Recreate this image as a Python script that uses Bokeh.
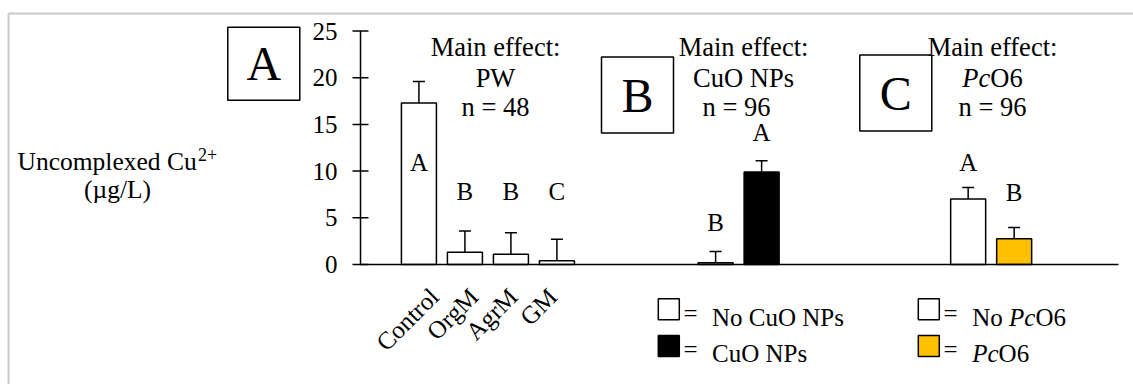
import math

from bokeh.core.properties import value
from bokeh.embed import file_html
from bokeh.models import ColumnDataSource, Range1d, TeeHead, Whisker
from bokeh.plotting import figure
from bokeh.resources import INLINE

# ---------------- data ----------------
y_ticks = [0, 5, 10, 15, 20, 25]

pw_labels = ["Control", "OrgM", "AgrM", "GM"]
pw_mean = [17.3, 1.3, 1.1, 0.4]
pw_err = [2.3, 2.3, 2.3, 2.3]
pw_sig = ["A", "B", "B", "C"]

cuo_labels = ["No CuO NPs", "CuO NPs"]
cuo_mean = [0.2, 9.9]
cuo_err = [1.2, 1.2]
cuo_sig = ["B", "A"]

pc_labels = ["No PcO6", "PcO6"]
pc_mean = [7.0, 2.75]
pc_err = [1.25, 1.2]
pc_sig = ["A", "B"]

panel_letters = ["A", "B", "C"]
effect_names = ["PW", "CuO NPs", "PcO6"]
effect_n = [48, 96, 96]

# ---------------- layout ----------------
W, H = 1133, 384
AXIS_PX = 360              # canvas x of the value axis
SLOT = 46.0                # px per bar slot
Y0_PX, Y25_PX = 264.0, 30.5
PPU = (Y0_PX - Y25_PX) / 25.0
Y_TOP = 25 + Y25_PX / PPU
Y_BOT = Y_TOP - H / PPU


def sx(px):
    """canvas x pixel -> data x"""
    return (px - AXIS_PX) / SLOT


def sy(py):
    """canvas y pixel -> data y"""
    return Y_TOP - py / PPU


FONT = value("Liberation Serif")
FS = "25px"
HFS = "26.5px"
WHITE, BLACK, GOLD, FRAME_GRAY = "#FFFFFF", "#000000", "#FFC000", "#C8C8C8"

group_start = [1.27, 7.72, 13.21]
group_means = [pw_mean, cuo_mean, pc_mean]
group_errs = [pw_err, cuo_err, pc_err]
group_sigs = [pw_sig, cuo_sig, pc_sig]
group_fill = [[WHITE] * 4, [WHITE, BLACK], [WHITE, GOLD]]
sig_y = [[10.95, 7.85, 7.85, 7.85], [4.53, 14.16], [10.95, 7.74]]

xs, tops, fills, sig_x, sig_t, sig_yy = [], [], [], [], [], []
full = dict(x=[], lo=[], hi=[])
upper_only = dict(x=[], lo=[], hi=[])
for g, start in enumerate(group_start):
    for i, (m, e) in enumerate(zip(group_means[g], group_errs[g])):
        x = start + i
        xs.append(x)
        tops.append(m)
        fills.append(group_fill[g][i])
        sig_x.append(x)
        sig_t.append(group_sigs[g][i])
        sig_yy.append(sig_y[g][i])
        target = full if m - e >= 0 else upper_only
        target["x"].append(x)
        target["lo"].append(max(0.0, m - e))
        target["hi"].append(m + e)

p = figure(
    width=W, height=H,
    x_range=Range1d(sx(0), sx(W)),
    y_range=Range1d(Y_BOT, Y_TOP),
    x_axis_location=None, y_axis_location=None,
    toolbar_location=None, output_backend="svg",
    min_border=0,
)
p.outline_line_color = None
p.grid.visible = False
p.background_fill_color = WHITE
p.border_fill_color = WHITE

# outer chart border
p.segment(x0=[sx(8), sx(8)], y0=[sy(13), sy(13)], x1=[sx(W + 5), sx(8)], y1=[sy(13), sy(H + 5)],
          line_color=FRAME_GRAY, line_width=2)

# value axis: line, crossing ticks and labels at the tick values
p.segment(x0=[0], y0=[min(y_ticks)], x1=[0], y1=[max(y_ticks)], line_color=BLACK, line_width=1.5)
p.scatter(x=[0] * len(y_ticks), y=y_ticks, marker="dash", size=16,
          line_color=BLACK, line_width=1.5)
p.text(x=[0] * len(y_ticks), y=y_ticks, text=[str(t) for t in y_ticks],
       x_offset=-23, text_font=FONT, text_font_size=FS, text_align="right",
       text_baseline="middle", text_color=BLACK)

# value axis title
tkw = dict(text_font=FONT, text_color=BLACK, text_baseline="alphabetic")
p.text(x=[sx(17)], y=[sy(161)], text=["Uncomplexed Cu"], text_font_size="25.5px",
       text_align="left", **tkw)
p.text(x=[sx(197.5)], y=[sy(154)], text=["2+"], text_font_size="18px",
       text_align="left", **tkw)
p.text(x=[sx(117)], y=[sy(189)], text=["(\u00b5g/L)"], text_font_size="25.5px",
       text_align="center", **tkw)

# bars
p.vbar(x=xs, top=tops, bottom=0, width=35 / SLOT, fill_color=fills,
       line_color=BLACK, line_width=1.5)

# error bars
for src, low_head in ((full, True), (upper_only, False)):
    w = Whisker(
        source=ColumnDataSource(src), base="x", lower="lo", upper="hi",
        dimension="height", line_color=BLACK, line_width=1.5,
        upper_head=TeeHead(size=12, line_color=BLACK, line_width=1.5),
        lower_head=TeeHead(size=12, line_color=BLACK, line_width=1.5) if low_head else None,
    )
    p.add_layout(w)

# category baseline
p.segment(x0=[0], y0=[0], x1=[sx(1118)], y1=[0], line_color=BLACK, line_width=1.5)

# significance letters
p.text(x=sig_x, y=sig_yy, text=sig_t, text_font=FONT, text_font_size=FS,
       text_align="center", text_baseline="middle", text_color=BLACK)

# rotated category names under the PW bars
p.text(x=[sx(434 + 39.4 * i) for i in range(len(pw_labels))],
       y=[sy(292)] * len(pw_labels), text=pw_labels, angle=math.pi / 4,
       text_font=FONT, text_font_size=FS, text_align="right",
       text_baseline="middle", text_color=BLACK)

# main-effect headers
header_x = [sx(495), sx(743), sx(992)]
base_py = [46, 77, 106.7]
for g, hx in enumerate(header_x):
    kw = dict(text_font=FONT, text_font_size=HFS, text_baseline="alphabetic", text_color=BLACK)
    p.text(x=[hx], y=[sy(base_py[0])], text=["Main effect:"], text_align="center", **kw)
    p.text(x=[hx], y=[sy(base_py[2])], text=[f"n = {effect_n[g]}"], text_align="center",
           x_offset=-7 if g == 1 else 0, **kw)
    name = effect_names[g]
    if name == "PcO6":
        p.text(x=[hx], y=[sy(base_py[1])], text=["Pc"], text_align="right",
               x_offset=-2.2, text_font_style="italic", **kw)
        p.text(x=[hx], y=[sy(base_py[1])], text=["O6"], text_align="left",
               x_offset=-2.2, **kw)
    else:
        p.text(x=[hx], y=[sy(base_py[1])], text=[name], text_align="center", **kw)

# panel boxes
box_cx = [sx(263.3), sx(637.0), sx(895.3)]
box_cy = [sy(63.3), sy(94.5), sy(92.5)]
p.rect(x=box_cx, y=box_cy, width=72, height=[73, 76, 76],
       width_units="screen", height_units="screen",
       fill_color=None, line_color=BLACK, line_width=1.5)
p.text(x=box_cx, y=box_cy, text=panel_letters, text_font=FONT, text_font_size="48px",
       text_align="center", text_baseline="middle", text_color=BLACK)

# keys
key_rows = [sy(308.8), sy(345.5)]
key_base = [sy(316.7), sy(353.3)]
eq_base = [sy(313.2), sy(349.3)]
p.rect(x=[sx(668.3)] * 2 + [sx(928.3)] * 2, y=key_rows * 2, width=21, height=21,
       width_units="screen", height_units="screen",
       fill_color=[WHITE, BLACK, WHITE, GOLD], line_color=BLACK, line_width=1.5)
lkw = dict(text_font=FONT, text_font_size=FS, text_baseline="alphabetic",
           text_align="left", text_color=BLACK)
p.text(x=[sx(683)] * 2 + [sx(943)] * 2, y=eq_base * 2, text=["="] * 4, **lkw)
p.text(x=[sx(711.5)] * 2, y=key_base, text=cuo_labels, **lkw)
# "No PcO6" / "PcO6" with italic Pc
p.text(x=[sx(971.7)], y=[key_base[0]], text=["No"], **lkw)
p.text(x=[sx(971.7)] * 2, y=key_base, text=["Pc", "Pc"], x_offset=[36.8, 0],
       text_font_style="italic", **lkw)
p.text(x=[sx(971.7)] * 2, y=key_base, text=["O6", "O6"], x_offset=[63.2, 26.4], **lkw)

open("out.html", "w").write(file_html(p, INLINE))
